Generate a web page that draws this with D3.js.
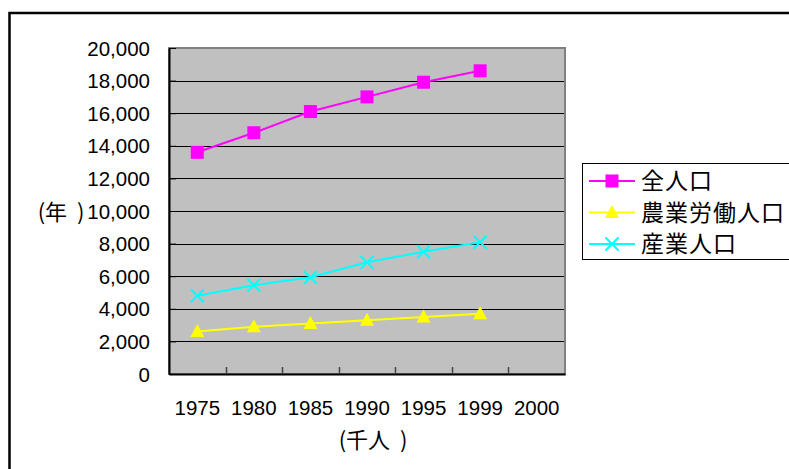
<!DOCTYPE html>
<html><head><meta charset="utf-8">
<script src="https://cdn.jsdelivr.net/npm/d3@7"></script>
<style>
html,body{margin:0;padding:0;background:#fff;}
svg{display:block;}
</style></head>
<body>
<svg id="c" width="789" height="469"></svg>
<script>
const categories = ["1975","1980","1985","1990","1995","1999","2000"];
const totalPop = [13600, 14800, 16100, 17000, 17900, 18600];
const farmLabor = [2600, 2900, 3100, 3300, 3500, 3700];
const industryPop = [4800, 5450, 5930, 6850, 7500, 8080];
const seriesNames = ["全人口", "農業労働人口", "産業人口"];
const yTicks = [0,2000,4000,6000,8000,10000,12000,14000,16000,18000,20000];
const yLabel = "(年 )";
const xLabel = "(千人 )";

const series = [
  {name: seriesNames[0], values: totalPop, color: "#FF00FF", marker: "square"},
  {name: seriesNames[1], values: farmLabor, color: "#FFFF00", marker: "triangle"},
  {name: seriesNames[2], values: industryPop, color: "#00FFFF", marker: "x"}
];

const svg = d3.select("#c");
const L = 169, R = 565, T = 48, B = 374;
const latin = "'Liberation Sans', Arial, sans-serif";
const cjk = "'Noto Sans CJK JP', 'Noto Sans CJK SC', sans-serif";

// outer border
svg.append("rect").attr("x", 9.5).attr("y", 13).attr("width", 800).attr("height", 480)
  .attr("fill", "none").attr("stroke", "#000").attr("stroke-width", 2.5);

const x = d3.scaleBand().domain(categories).range([L, R]).padding(0);
const y = d3.scaleLinear().domain([0, 20000]).range([B, T]);

// plot area
svg.append("rect").attr("x", L).attr("y", T).attr("width", R - L).attr("height", B - T)
  .attr("fill", "#C0C0C0").attr("stroke", "#808080").attr("stroke-width", 2);

// gridlines
svg.append("g").selectAll("line").data(yTicks.filter(d => d > 0 && d < 20000)).join("line")
  .attr("x1", L).attr("x2", R - 1).attr("y1", d => Math.round(y(d)) + 0.5).attr("y2", d => Math.round(y(d)) + 0.5)
  .attr("stroke", "#000").attr("stroke-width", 1);

// y axis
const yAxis = svg.append("g").attr("transform", `translate(${L},0)`)
  .call(d3.axisLeft(y).tickValues(yTicks).tickSize(-7).tickSizeOuter(0).tickPadding(20)
    .tickFormat(d3.format(",")));
yAxis.select(".domain").attr("stroke", "#000").attr("stroke-width", 2);
yAxis.selectAll(".tick line").attr("stroke", "#000");
yAxis.selectAll("text").attr("font-family", latin).attr("font-size", 20.5).attr("fill", "#000")
  .attr("x", -19).attr("dy", "0.35em");

// x axis
const xAxis = svg.append("g").attr("transform", `translate(0,${B})`)
  .call(d3.axisBottom(x).tickSize(0).tickSizeOuter(0).tickPadding(0));
xAxis.select(".domain").attr("stroke", "#000").attr("stroke-width", 2);
xAxis.selectAll("text").attr("font-family", latin).attr("font-size", 20.5).attr("fill", "#000")
  .attr("y", 34).attr("dy", "0.35em");
// x ticks at band boundaries (inside)
svg.append("g").selectAll("line").data(categories.slice(1)).join("line")
  .attr("x1", d => Math.round(x(d)) + 0.5).attr("x2", d => Math.round(x(d)) + 0.5)
  .attr("y1", B).attr("y2", B - 7).attr("stroke", "#444").attr("stroke-width", 1.5);

// axis titles
svg.append("text").attr("x", 61).attr("y", 212).attr("dy", "0.36em").attr("text-anchor", "middle")
  .attr("font-family", cjk).attr("font-size", 22).attr("fill", "#000")
  .attr("xml:space", "preserve").style("white-space", "pre").text(yLabel.replace(" ", "  "));
svg.append("text").attr("x", 373).attr("y", 440).attr("dy", "0.36em").attr("text-anchor", "middle")
  .attr("font-family", cjk).attr("font-size", 22).attr("fill", "#000")
  .attr("xml:space", "preserve").style("white-space", "pre").text(xLabel.replace(" ", "  "));

function drawMarker(g, type, color, cx, cy) {
  if (type === "square") {
    g.append("rect").attr("x", cx - 6.5).attr("y", cy - 6.5).attr("width", 13).attr("height", 13).attr("fill", color);
  } else if (type === "triangle") {
    g.append("path").attr("d", `M${cx},${cy - 7.5}L${cx + 7},${cy + 5.5}L${cx - 7},${cy + 5.5}Z`).attr("fill", color);
  } else {
    const s = 6.5;
    g.append("path").attr("d", `M${cx - s},${cy - s}L${cx + s},${cy + s}M${cx - s},${cy + s}L${cx + s},${cy - s}`)
      .attr("stroke", color).attr("stroke-width", 2).attr("fill", "none");
  }
}

const line = d3.line().x((d, i) => x(categories[i]) + x.bandwidth() / 2).y(d => y(d));
series.forEach(s => {
  const g = svg.append("g");
  g.append("path").attr("d", line(s.values)).attr("fill", "none").attr("stroke", s.color).attr("stroke-width", 2);
  s.values.forEach((v, i) => drawMarker(g, s.marker, s.color, x(categories[i]) + x.bandwidth() / 2, y(v)));
});

// legend
svg.append("rect").attr("x", 582.5).attr("y", 163.5).attr("width", 220).attr("height", 96)
  .attr("fill", "#fff").attr("stroke", "#000").attr("stroke-width", 1);
series.forEach((s, i) => {
  const cy = 181 + i * 31.5;
  const g = svg.append("g");
  g.append("line").attr("x1", 589).attr("x2", 635).attr("y1", cy).attr("y2", cy).attr("stroke", s.color).attr("stroke-width", 2);
  drawMarker(g, s.marker, s.color, 612, cy);
  g.append("text").attr("x", 641).attr("y", cy).attr("dy", "0.36em").attr("font-family", cjk)
    .attr("font-size", 23).attr("letter-spacing", 1).attr("fill", "#000").text(s.name);
});
</script>
</body></html>
